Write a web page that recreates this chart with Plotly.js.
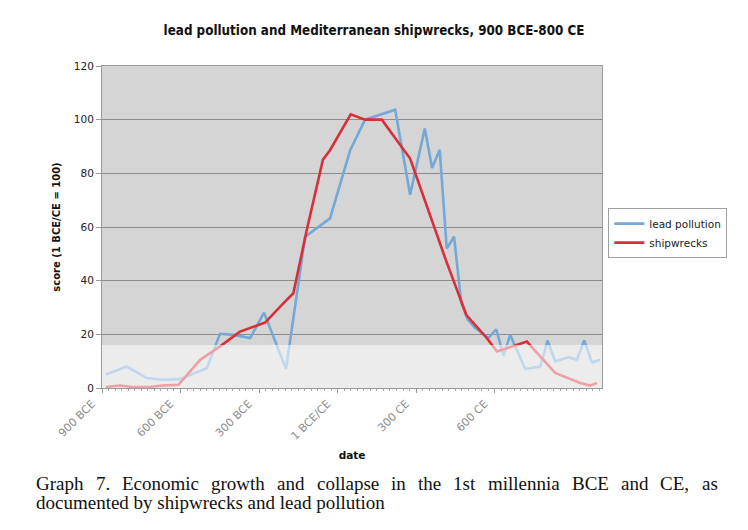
<!DOCTYPE html>
<html>
<head>
<meta charset="utf-8">
<script src="https://cdn.plot.ly/plotly-3.0.1.min.js"></script>
<style>
  html, body { margin: 0; padding: 0; background: #fff; }
  #chart { width: 748px; height: 530px; }
</style>
</head>
<body>
<div id="chart"></div>
<script>
// values (year, negative = BCE)
var leadYears = [-885, -806, -729, -672, -602, -500, -449, -398, -334, -281, -197, -124, -29, 48, 105,
    220, 277, 333, 361, 390, 417, 445, 472, 497, 526, 576, 606, 634, 659, 717, 774, 802, 831, 882, 914, 942, 972, 1003]
var leadScore = [5, 8, 3.7, 3.1, 3.3, 7.4, 20.2, 19.8, 18.6, 28.1, 7.1, 56.4, 63.2, 88.6, 100,
    103.7, 72, 96.7, 82, 88.8, 52, 56.4, 32, 25.5, 22.3, 18.6, 21.9, 12, 19.8, 7.1, 8, 17.7, 9.9, 11.5, 10.5, 17.7, 9.5, 10.5]

var shipYears = [-885, -831, -786, -717, -672, -608, -525, -449, -373, -322, -277, -213, -169, -118, -56,
    -29, 50, 105, 169, 226, 277, 416, 492, 570, 609, 723, 831, 927, 965, 991]
var shipScore = [0.4, 0.9, 0.4, 0.4, 0.9, 1.2, 10.5, 15.5, 21, 22.9, 24.4, 31, 35.3, 58.8, 85.1,
    88.6, 102, 100, 100, 92.3, 85.5, 47, 27.2, 18.6, 13.6, 17.3, 5.6, 1.9, 0.9, 1.9]

var tickYears = [-900, -600, -300, 0, 300, 600]
var tickLabels = ['900 BCE', '600 BCE', '300 BCE', '1 BCE/CE', '300 CE', '600 CE']

var captionLine1 = 'Graph 7.  Economic growth and collapse in the 1st millennia BCE and CE, as'
var captionLine2 = 'documented by shipwrecks and lead pollution'

// plot frame in pixels
var W = 748, H = 530
var L = 102, R = 601.7, T = 65.5, B = 388.3

function px2x(px) { return (px - L) / (R - L) }
function px2y(py) { return (B - py) / (B - T) }

var traces = [
    { x: leadYears, y: leadScore, name: 'lead pollution', type: 'scatter', mode: 'lines',
      line: { color: '#74a8d6', width: 2.6 } },
    { x: shipYears, y: shipScore, name: 'shipwrecks', type: 'scatter', mode: 'lines',
      line: { color: '#d8303b', width: 2.6 } }
]

// justify the first caption line like the printed page
var capFont = 'Liberation Serif, serif'
var capSize = 19
var ctx = document.createElement('canvas').getContext('2d')
ctx.font = capSize + 'px "Liberation Serif"'
var words = captionLine1.split(/ +/)
var total = 0
words.forEach(function (w) { total += ctx.measureText(w).width })
var gap = (716 - 35 - total) / (words.length - 1)

var annotations = []
var cx = 35
words.forEach(function (w) {
    annotations.push({ text: w, xref: 'paper', yref: 'paper', x: px2x(cx), y: px2y(484),
        xanchor: 'left', yanchor: 'middle', showarrow: false, borderpad: 0,
        font: { family: capFont, size: capSize, color: '#111' } })
    cx += ctx.measureText(w).width + gap
})
annotations.push({ text: captionLine2, xref: 'paper', yref: 'paper', x: px2x(35), y: px2y(503),
    xanchor: 'left', yanchor: 'middle', showarrow: false, borderpad: 0,
    font: { family: capFont, size: capSize, color: '#111' } })

var layout = {
    width: W, height: H,
    margin: { l: L, r: W - R, t: T, b: H - B, pad: 0 },
    paper_bgcolor: '#ffffff',
    plot_bgcolor: '#d5d5d5',
    font: { family: 'DejaVu Sans, Verdana, sans-serif', size: 10, color: '#222' },
    title: {
        text: 'lead pollution and Mediterranean shipwrecks, 900 BCE-800 CE',
        font: { family: 'DejaVu Sans Condensed, DejaVu Sans, sans-serif', size: 13.3, color: '#111', weight: 'bold' },
        x: 0.5, xref: 'container', y: 1 - 30 / H, yanchor: 'middle'
    },
    xaxis: {
        range: [-900, 1010],
        tickvals: tickYears, ticktext: tickLabels,
        tickangle: -45,
        ticklabelshift: -10,
        tickfont: { size: 11, color: '#8a8a8a' },
        showgrid: false, zeroline: false,
        showline: true, linecolor: '#9a9a9a', linewidth: 1, mirror: true,
        ticks: 'outside', ticklen: 4, tickcolor: '#9a9a9a',
        minor: { dtick: 25, tick0: -900, ticks: 'outside', ticklen: 2, tickcolor: '#aaa' },
        title: { text: 'date', font: { size: 10.5, color: '#111', weight: 'bold' }, standoff: 9 },
        automargin: false
    },
    yaxis: {
        range: [0, 120],
        dtick: 20,
        tickfont: { size: 10.5, color: '#222' },
        showgrid: true, gridcolor: '#8c8c8c', gridwidth: 1,
        zeroline: false,
        showline: true, linecolor: '#9a9a9a', linewidth: 1, mirror: true,
        ticks: 'outside', ticklen: 5, tickcolor: '#9a9a9a',
        title: { text: 'score (1 BCE/CE = 100)', font: { size: 10, color: '#111', weight: 'bold' }, standoff: 11 },
        automargin: false
    },
    legend: {
        x: px2x(608), y: px2y(208), xanchor: 'left', yanchor: 'top',
        bgcolor: '#ffffff', bordercolor: '#a0a0a0', borderwidth: 1,
        font: { size: 10.5, color: '#222' },
        tracegroupgap: 0, itemwidth: 30
    },
    shapes: [
        // pale band left by the watermark near the bottom
        { type: 'rect', xref: 'paper', yref: 'y', x0: 0, x1: 1, y0: 0, y1: 16,
          fillcolor: 'rgba(255,255,255,0.55)', line: { width: 0 }, layer: 'above' }
    ],
    annotations: annotations,
    showlegend: true
}

Plotly.newPlot('chart', traces, layout, { displayModeBar: false, staticPlot: true })
</script>
</body>
</html>
